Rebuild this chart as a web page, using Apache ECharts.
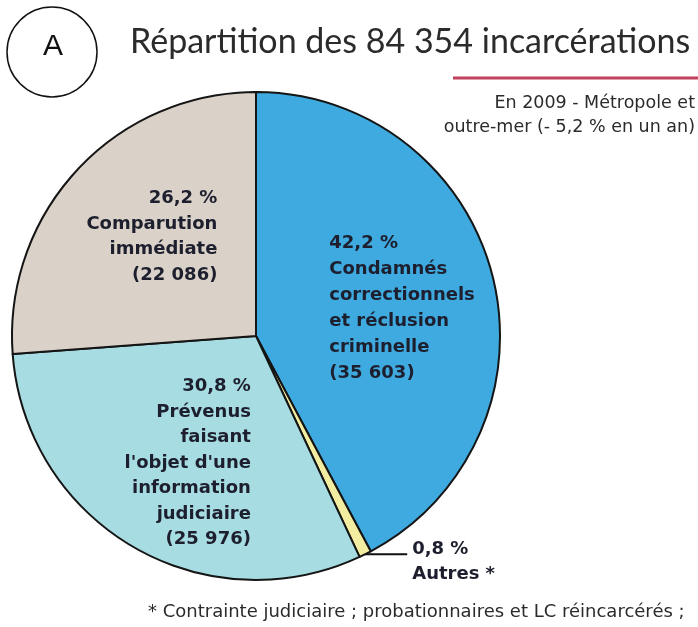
<!DOCTYPE html>
<html>
<head>
<meta charset="utf-8">
<script src="https://cdn.jsdelivr.net/npm/echarts@6/dist/echarts.min.js"></script>
<style>
html,body{margin:0;padding:0;background:#fff;}
#main{width:698px;height:627px;}
</style>
</head>
<body>
<div id="main"></div>
<script>
// ---- data ----
const categories = [
  'Condamnés\ncorrectionnels\net réclusion\ncriminelle',
  'Autres *',
  'Prévenus\nfaisant\nl\'objet d\'une\ninformation\njudiciaire',
  'Comparution\nimmédiate'
];
const values = [35603, 689, 25976, 22086];
const percents = [42.2, 0.8, 30.8, 26.2];
const showCount = [true, false, true, true];
const titleText = 'Répartition des 84 354 incarcérations';
const subtitleText = 'En 2009 - Métropole et\noutre-mer (- 5,2 % en un an)';
const footnoteText = '* Contrainte judiciaire ; probationnaires et LC réincarcérés ;';
const panelLetter = 'A';

// ---- styling ----
const colors = ['#3eaadf', '#f3eda2', '#a7dde2', '#dad2c9'];
const labelFont = {fontFamily: 'DejaVu Sans', fontWeight: 'bold', fontSize: 18, lineHeight: 25.5, color: '#1d1f2e'};
const labelCfg = [
  {key: 'l', width: 156, align: 'left', offset: [30, 3], position: 'inside', lineHeight: 26},
  {key: 'o', width: 100, align: 'left', position: 'outside'},
  {key: 'r1', width: 140, align: 'right', offset: [-12, 19], position: 'inside'},
  {key: 'r2', width: 142, align: 'right', offset: [-18, -14], position: 'inside'}
];

const fmtNum = v => String(v).replace(/\B(?=(\d{3})+(?!\d))/g, ' ');
const fmtPct = p => p.toFixed(1).replace('.', ',') + ' %';

const rich = {};
labelCfg.forEach(c => {
  rich[c.key] = Object.assign({}, labelFont, {width: c.width, align: c.align}, c.lineHeight ? {lineHeight: c.lineHeight} : {});
});

const data = categories.map((name, i) => {
  const c = labelCfg[i];
  const lines = [fmtPct(percents[i])].concat(name.split('\n'));
  if (showCount[i]) lines.push('(' + fmtNum(values[i]) + ')');
  const item = {
    name: name,
    value: values[i],
    itemStyle: {color: colors[i]},
    label: {
      show: true,
      position: c.position,
      formatter: lines.map(s => '{' + c.key + '|' + s + '}').join('\n'),
      rich: rich
    }
  };
  if (c.offset) item.label.offset = c.offset;
  if (c.position === 'outside') {
    item.label.padding = [15, 0, 0, 0];
    item.labelLine = {show: true, length: 0.01, length2: 42, lineStyle: {color: '#111', width: 2}};
  } else {
    item.labelLine = {show: false};
  }
  return item;
});

const chart = echarts.init(document.getElementById('main'), null, {renderer: 'canvas'});
chart.setOption({
  backgroundColor: '#fff',
  animation: false,
  title: [
    {text: titleText, left: 130, top: 23, padding: 0,
     textStyle: {fontFamily: 'Lato', fontWeight: 'normal', fontSize: 34, lineHeight: 38, color: '#2b2b2b'}}
  ],
  graphic: [
    {type: 'circle', shape: {cx: 52, cy: 52, r: 45},
     style: {fill: 'none', stroke: '#111', lineWidth: 1.5}},
    {type: 'text', x: 53, y: 47,
     style: {text: panelLetter, fontFamily: 'Liberation Sans', fontSize: 30, fill: '#111', align: 'center', verticalAlign: 'middle'}},
    {type: 'line', shape: {x1: 453, y1: 78, x2: 698, y2: 78},
     style: {stroke: '#c2415c', lineWidth: 3}},
    {type: 'text', x: 695, y: 91,
     style: {text: subtitleText, fontFamily: 'DejaVu Sans', fontSize: 17.5, lineHeight: 24, fill: '#2b2b2b', align: 'right', verticalAlign: 'top'}},
    {type: 'text', x: 148, y: 612,
     style: {text: footnoteText, fontFamily: 'DejaVu Sans', fontSize: 18, fill: '#2b2b2b', align: 'left', verticalAlign: 'middle'}}
  ],
  series: [{
    type: 'pie',
    center: [256, 336],
    radius: 244,
    startAngle: 90,
    clockwise: true,
    avoidLabelOverlap: false,
    minShowLabelAngle: 0,
    itemStyle: {borderColor: '#151515', borderWidth: 2},
    emphasis: {disabled: true},
    label: labelFont,
    data: data
  }]
});
</script>
</body>
</html>
